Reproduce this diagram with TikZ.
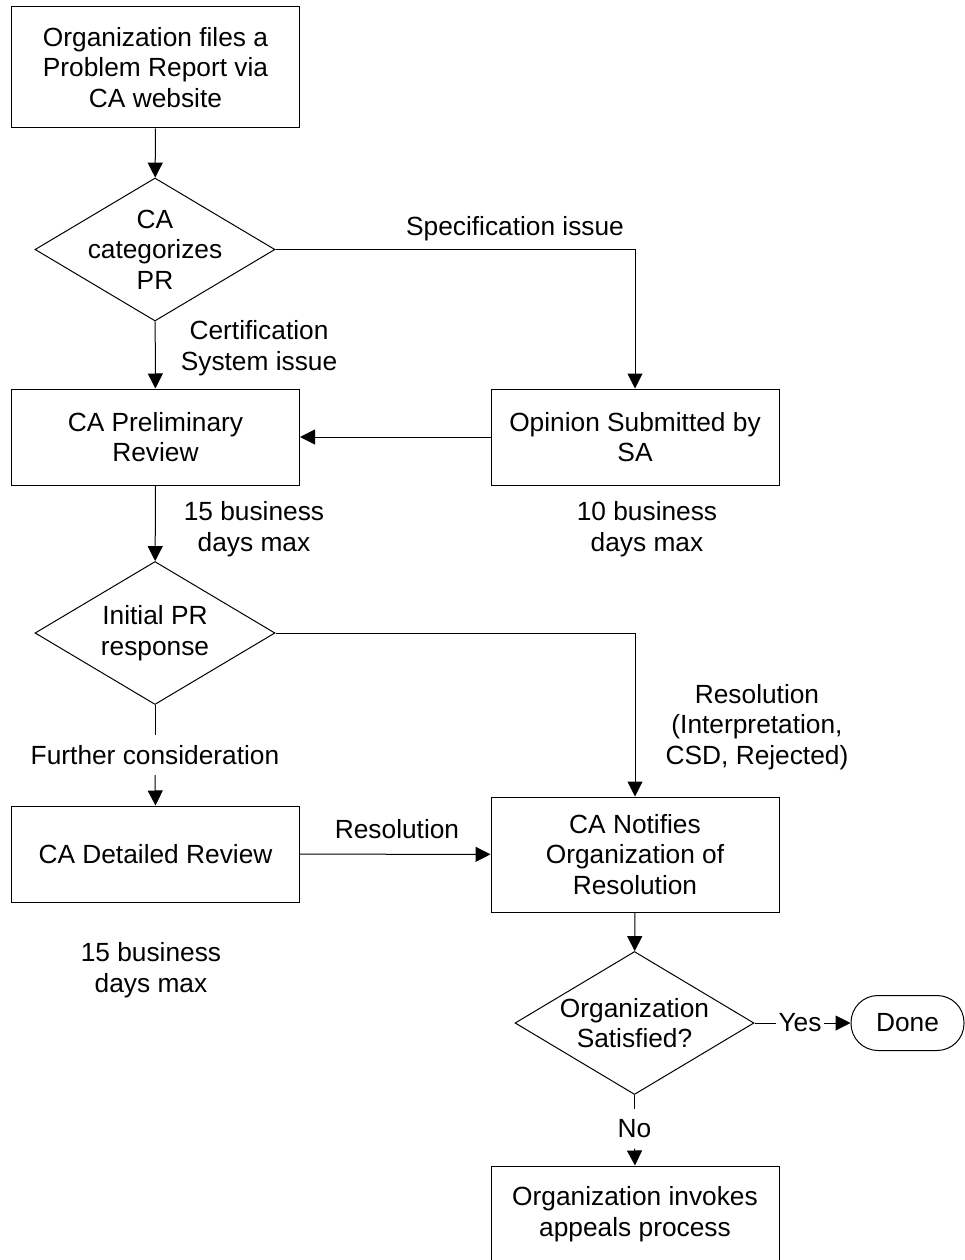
\documentclass[tikz,border=0pt]{standalone}
\usepackage{fontspec}
\setmainfont{Liberation Sans}
\usetikzlibrary{arrows.meta,shapes.geometric}

\begin{document}
\begin{tikzpicture}[x=1pt,y=-1pt,line width=1pt,
        every node/.style={font=\fontsize{26.3}{30.6}\selectfont,align=center},
        proc/.style={rectangle,draw,minimum width=288pt,inner sep=0pt},
        decide/.style={diamond,draw,minimum width=240pt,minimum height=143pt,inner sep=0pt},
        link/.style={-{Triangle[length=15pt,width=15pt]}}]
        \useasboundingbox (0,0) rectangle (964,1260);
        % steps
        \node[proc,minimum height=121pt] (file) at (155.5,67.5) {Organization files a\\Problem Report via\\CA website};
        \node[decide,label={[align=center]center:CA\\categorizes\\PR}] (cat) at (155,249.5) {};
        \node[proc,minimum height=96pt] (prelim) at (155.5,437) {CA Preliminary\\Review};
        \node[proc,minimum height=96pt] (opinion) at (635,437) {Opinion Submitted by\\SA};
        \node[decide,label={[align=center]center:Initial PR\\response}] (resp) at (155,633) {};
        \node[proc,minimum height=96pt] (detail) at (155.5,854) {CA Detailed Review};
        \node[proc,minimum height=115pt] (notify) at (635,854.5) {CA Notifies\\Organization of\\Resolution};
        \node[decide,minimum width=239pt,label={[align=center]center:Organization\\Satisfied?}] (sat) at (634.5,1023) {};
        \node[rectangle,draw,rounded corners=27pt,minimum width=113pt,minimum height=55pt,inner sep=0pt] (done) at (907.5,1023) {Done};
        \node[proc,minimum height=96pt] (appeal) at (635,1214) {Organization invokes\\appeals process};
        % labels
        \node (spec) at (515,229) {Specification issue};
        \node (cert) at (259,348) {Certification\\System issue};
        \node (days1) at (254,529) {15 business\\days max};
        \node (days2) at (647,529) {10 business\\days max};
        \node[inner ysep=10pt] (further) at (155,755) {Further consideration};
        \node (resol) at (757,727) {Resolution\\(Interpretation,\\CSD, Rejected)};
        \node (res2) at (397,829) {Resolution};
        \node (days3) at (151,970) {15 business\\days max};
        \node[inner xsep=2pt] (yes) at (800,1023) {Yes};
        \node[inner ysep=10pt] (no) at (634.5,1129) {No};
        % connectors
        \draw[link] (file) -- (cat);
        \draw[link] (cat) -- (prelim);
        \draw[link] (cat.east) -| (opinion.north);
        \draw[link] (opinion) -- (prelim);
        \draw[link] (prelim) -- (resp);
        \draw[link] (resp.east) -| (notify.north);
        \draw (resp.south) -- (further.north);
        \draw[link] (further.south) -- (detail.north);
        \draw[link] (detail) -- (notify);
        \draw[link] (notify) -- (sat);
        \draw (sat.east) -- (yes.west);
        \draw[link] (yes.east) -- (done.west);
        \draw (sat.south) -- (no.north);
        \draw[link] (no.south) -- (appeal.north);
    \end{tikzpicture}
\end{document}
